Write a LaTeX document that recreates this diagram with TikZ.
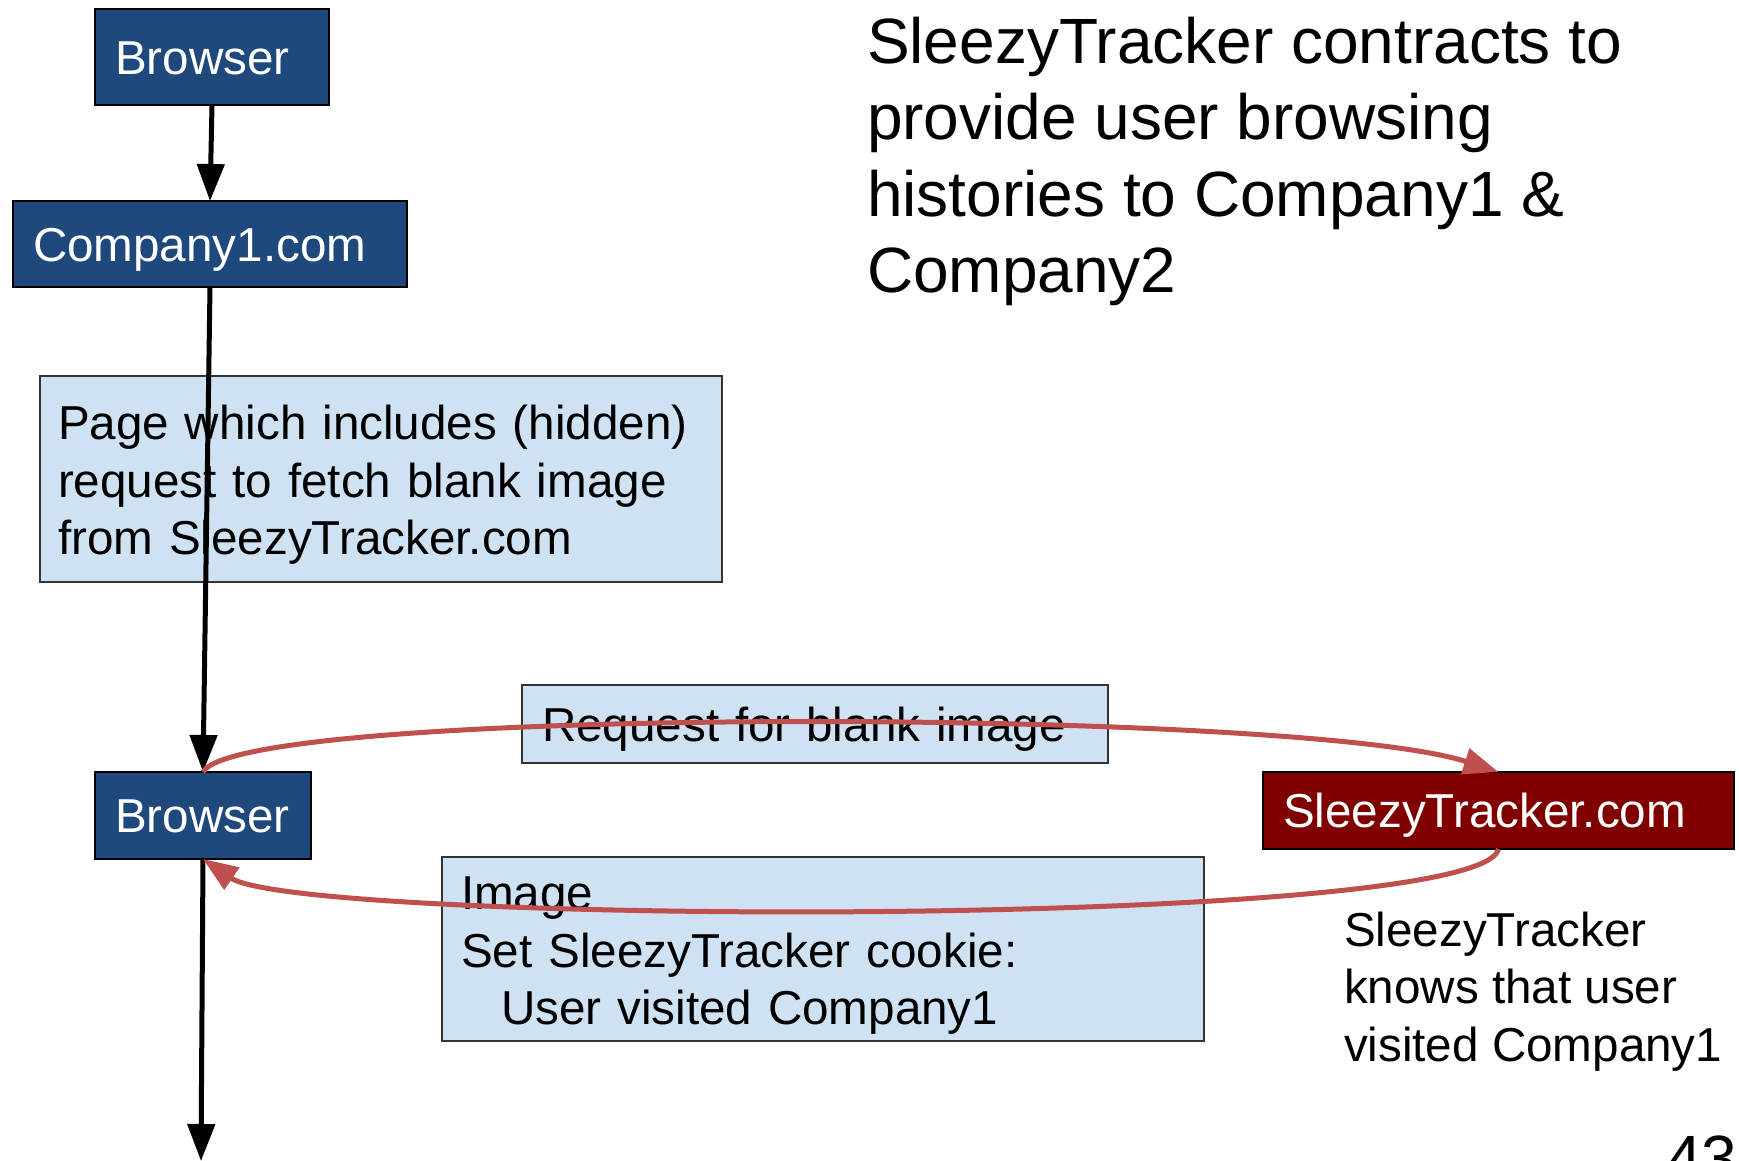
\documentclass[tikz,border=0pt]{standalone}
\usepackage{fontspec}
\setmainfont{Liberation Sans}
\usetikzlibrary{arrows.meta}
\definecolor{boxblue}{RGB}{31,73,125}
\definecolor{lightblue}{RGB}{207,226,243}
\definecolor{darkred}{RGB}{128,0,0}
\definecolor{linered}{RGB}{192,80,77}
\begin{document}
\begin{tikzpicture}[x=1pt,y=-1pt,
  txt/.style={font=\fontsize{47.6}{57.7}\selectfont},
  bigtxt/.style={font=\fontsize{64}{76.5}\selectfont},
  boxbase/.style={txt, anchor=north west, inner ysep=0pt, outer sep=0pt, align=left},
  bluebox/.style={boxbase, draw=black, line width=2pt, fill=boxblue, text=white, inner xsep=20pt, text height=34.4pt, text depth=0pt},
  redbox/.style={bluebox, fill=darkred},
  notebox/.style={boxbase, draw=black!80, line width=2pt, fill=lightblue, text=black},
  blackarrow/.style={draw=black, line width=5pt, -{Triangle[length=37pt,width=27pt]}},
  redarrow/.style={draw=linered, line width=5pt, -{Triangle[length=35pt,width=26pt]}},
  plain/.style={inner sep=0pt, outer sep=0pt, align=left, anchor=base west}
]
\useasboundingbox[fill=white] (0,0) rectangle (1739,1161);

% boxes
\node[bluebox, minimum width=234pt, minimum height=96pt, text width=194pt] (b1) at (95,9) {Browser};
\node[bluebox, minimum width=394pt, minimum height=86pt, text width=354pt] (c1) at (13,201) {Company1.com};
\node[notebox, inner xsep=18pt, minimum width=682pt, minimum height=206pt, text width=646pt, text height=46pt] (page) at (40,376)
  {Page which includes (hidden)\\request to fetch blank image\\from SleezyTracker.com};
\node[notebox, inner xsep=20pt, minimum width=586pt, minimum height=78pt, text width=546pt, text height=34.4pt, text depth=0pt] (req) at (522,685)
  {Request for blank image};
\node[bluebox, minimum width=216pt, minimum height=87pt, text width=176pt] (b2) at (95,772) {Browser};
\node[redbox, minimum width=471pt, minimum height=77pt, text width=431pt] (st) at (1263,772) {SleezyTracker.com};
\node[notebox, inner xsep=19pt, minimum width=762pt, minimum height=184pt, text width=724pt, text height=46pt] (img) at (442,857)
  {Image\\Set SleezyTracker cookie:\\\hspace*{40pt}User visited Company1};

% free texts (base anchor = baseline of the last line)
\node[plain, bigtxt] (title) at (867,292.5)
  {SleezyTracker contracts to\\provide user browsing\\histories to Company1 \&\\Company2};
\node[plain, txt] (knows) at (1344,1061.4)
  {SleezyTracker\\knows that user\\visited Company1};
\node[plain, bigtxt] (pagenum) at (1666,1180) {43};

% connectors
\coordinate (bend) at (201,1161);
\draw[blackarrow] (b1.south) -- (c1.north);
\draw[blackarrow] (c1.south) -- (b2.north);
\draw[blackarrow] (b2.south) -- (bend);
\draw[redarrow] (b2.north) .. controls (240,705) and (1300,708) .. (st.north);
\draw[redarrow] (st.south) .. controls (1480,930) and (300,925) .. (b2.south);
\end{tikzpicture}
\end{document}
